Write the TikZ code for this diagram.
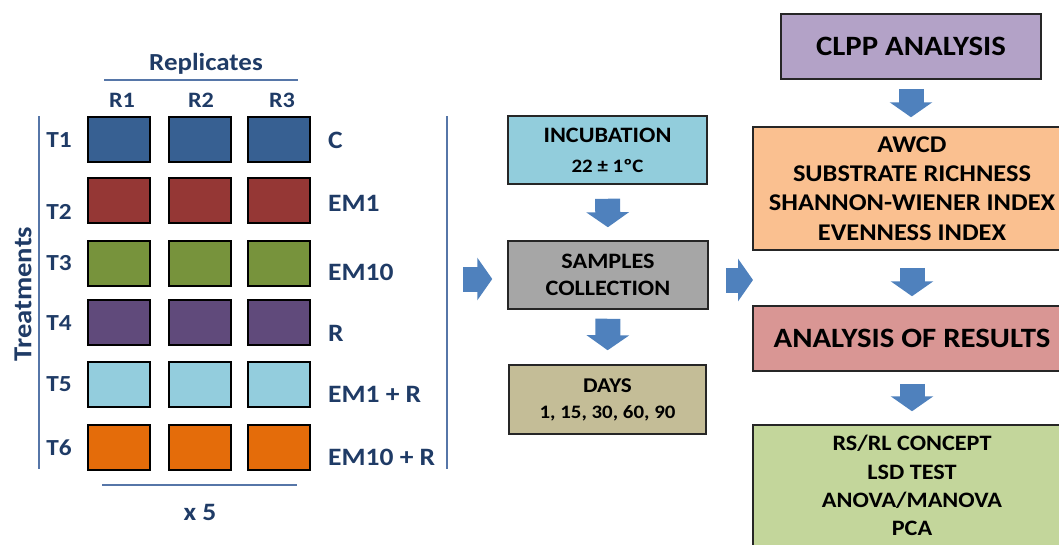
\documentclass[tikz,border=0pt]{standalone}
\usepackage{fontspec}
\setmainfont{Carlito}[FakeStretch=1.1]
\usetikzlibrary{arrows.meta,calc}

\definecolor{navy}{HTML}{1F3B66}
\definecolor{rulec}{HTML}{5676A8}
\definecolor{flow}{HTML}{4F81BD}
\definecolor{cA}{HTML}{376092}
\definecolor{cB}{HTML}{953735}
\definecolor{cC}{HTML}{77933C}
\definecolor{cD}{HTML}{604A7B}
\definecolor{cE}{HTML}{93CDDD}
\definecolor{cF}{HTML}{E46C0A}
\definecolor{incfill}{HTML}{92CDDC}
\definecolor{sampfill}{HTML}{A6A6A6}
\definecolor{daysfill}{HTML}{C4BD97}
\definecolor{clppfill}{HTML}{B3A2C7}
\definecolor{awcdfill}{HTML}{FAC090}
\definecolor{resfill}{HTML}{D99694}
\definecolor{statfill}{HTML}{C3D69B}

\newcommand{\fsz}[2]{\fontsize{#1}{#2}\selectfont\bfseries}

\tikzset{
  cell/.style={draw=black, line width=2pt, minimum width=62pt, minimum height=45pt, inner sep=0pt},
  navytext/.style={text=navy, inner sep=0pt},
  bracket/.style={draw=rulec, line width=1.5pt},
  procbox/.style={draw=black!85, line width=1.5pt, align=center, inner sep=0pt, text=black},
  flowarrow/.style={draw=flow, line width=25pt, -{Triangle[width=42pt,length=15pt]}}
}

\begin{document}
\begin{tikzpicture}[x=1pt,y=-1pt]
\useasboundingbox (0,0) rectangle (1059,544);
\clip (0,0) rectangle (1059,544);

% ---- experimental layout: replicates x treatments ----
\node[navytext, font=\fsz{24.5}{28}] (rep) at (206,64) {Replicates};
\draw[bracket] (104,80) -- (298,80);
\node[navytext, font=\fsz{22}{24}] (r1) at (122,100) {R1};
\node[navytext, font=\fsz{22}{24}] (r2) at (201,100) {R2};
\node[navytext, font=\fsz{22}{24}] (r3) at (282,100) {R3};

\foreach \i/\col/\y/\ty/\ly/\name in {
  1/cA/139/140/140/C,
  2/cB/200.5/212/203/EM1,
  3/cC/263/263/272/EM10,
  4/cD/322/323/333/R,
  5/cE/384.5/384/394/EM1 + R,
  6/cF/447/448/457/EM10 + R}{
  \node[cell, fill=\col] (c\i a) at (119,\y) {};
  \node[cell, fill=\col] (c\i b) at (199.5,\y) {};
  \node[cell, fill=\col] (c\i c) at (278.5,\y) {};
  \node[navytext, font=\fsz{23}{26}] (t\i) at (59,\ty) {T\i};
  \node[navytext, font=\fsz{25}{27}, anchor=west] (lab\i) at (328,\ly) {\name};
}

\draw[bracket] (39,116) -- (39,469);
\draw[bracket] (447,116) -- (447,469);
\node[navytext, font=\fsz{26}{29}, rotate=90] (treat) at (23,294) {Treatments};
\draw[bracket] (102,485) -- (297,485);
\node[navytext, font=\fsz{25}{28}] (x5) at (200,512) {x 5};

% ---- incubation and sampling ----
\node[procbox, fill=incfill, minimum width=199pt, minimum height=68pt, font=\fsz{22}{30}] (inc) at (607.5,150)
  {INCUBATION\\{\fontsize{19}{30}\selectfont 22 ± 1ºC}};
\node[procbox, fill=sampfill, minimum width=200pt, minimum height=68pt, font=\fsz{22}{27}] (samp) at (608,275)
  {SAMPLES\\COLLECTION};
\node[procbox, fill=daysfill, minimum width=197pt, minimum height=69pt, font=\fsz{21}{26}] (days) at (607.5,399.5)
  {DAYS\\{\fontsize{19}{26}\selectfont 1, 15, 30, 60, 90}};

% ---- analysis ----
\node[procbox, fill=clppfill, minimum width=260pt, minimum height=65pt, font=\fsz{28}{30}] (clpp) at (911,46.5)
  {CLPP ANALYSIS};
\node[procbox, fill=awcdfill, minimum width=318pt, minimum height=123pt, font=\fsz{24}{29.3}] (awcd) at (912,188.5)
  {AWCD\\SUBSTRATE RICHNESS\\SHANNON-WIENER INDEX\\EVENNESS INDEX};
\node[procbox, fill=resfill, minimum width=318pt, minimum height=65pt, font=\fsz{28}{32}] (res) at (912,338.5)
  {ANALYSIS OF RESULTS};
\node[procbox, fill=statfill, minimum width=318pt, minimum height=121pt, font=\fsz{22}{28.3}] (stat) at (912,485.5)
  {RS/RL CONCEPT\\LSD TEST\\ANOVA/MANOVA\\PCA};

% ---- flow arrows ----
\coordinate (gridR) at (447,279);
\coordinate (rcol) at (754,280);
\draw[flowarrow, shorten <=16pt, shorten >=15pt] (gridR) -- (gridR -| samp.west);
\draw[flowarrow, shorten <=14pt, shorten >=13pt] (inc.south) -- (samp.north);
\draw[flowarrow, shorten <=9pt, shorten >=14pt] (samp.south) -- (days.north);
\draw[flowarrow, shorten <=17pt, shorten >=1pt] (samp.east |- rcol) -- (rcol);
\draw[flowarrow, shorten <=9pt, shorten >=9pt] (clpp.south) -- (clpp.south |- awcd.north);
\draw[flowarrow, shorten <=17pt, shorten >=9pt] (awcd.south) -- (res.north);
\draw[flowarrow, shorten <=12pt, shorten >=13pt] (res.south) -- (stat.north);
\end{tikzpicture}
\end{document}
